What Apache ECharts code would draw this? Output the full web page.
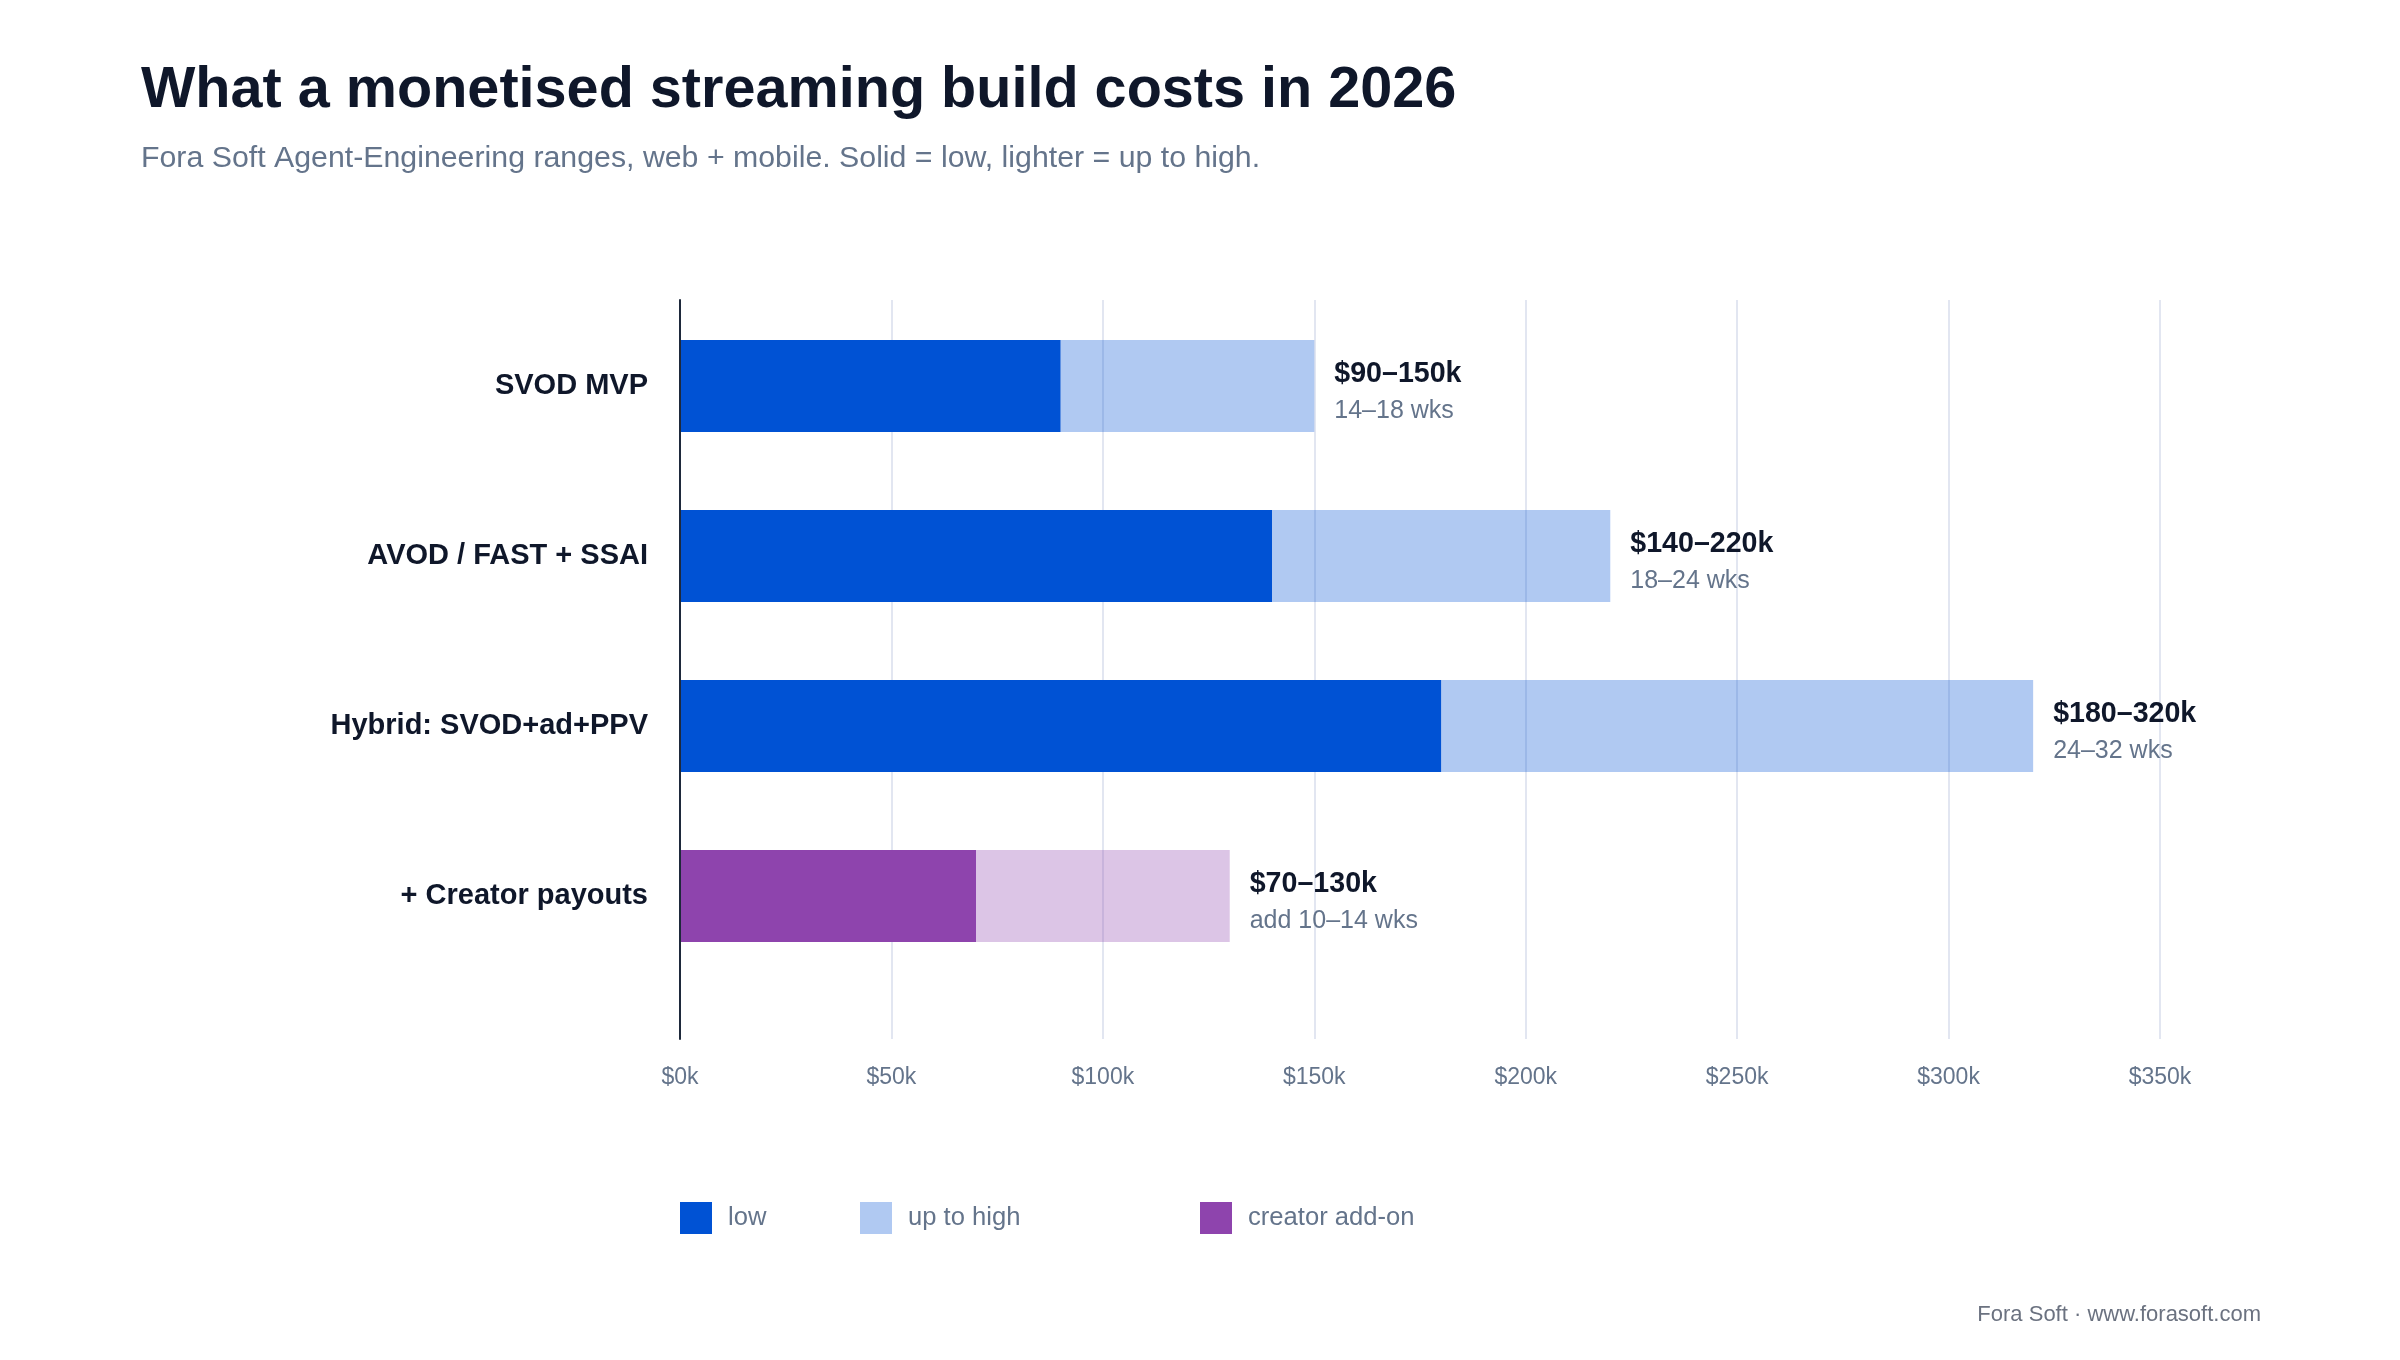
<!DOCTYPE html>
<html>
<head>
<meta charset="utf-8">
<title>Monetised streaming build costs 2026</title>
<script src="https://cdn.jsdelivr.net/npm/echarts@6/dist/echarts.min.js"></script>
<style>
    html, body { margin: 0; padding: 0; background: #ffffff; }
    #cost-chart { width: 2400px; height: 1360px; }
</style>
</head>
<body>
<div id="cost-chart"></div>
<script>
'use strict';

//分类
const categories = ['SVOD MVP', 'AVOD / FAST + SSAI', 'Hybrid: SVOD+ad+PPV', '+ Creator payouts']

//低价 / 高价（单位 $k）
const lowValues = [90, 140, 180, '-']
const highValues = [150, 220, 320, '-']
const creatorLowValues = ['-', '-', '-', 70]
const creatorHighValues = ['-', '-', '-', 130]

//柱子右侧标签
const rangeLabels = ['$90–150k', '$140–220k', '$180–320k', '$70–130k']
const weekLabels = ['14–18 wks', '18–24 wks', '24–32 wks', 'add 10–14 wks']

//x轴刻度
const axisMin = 0
const axisMax = 350
const axisStep = 50

const FONT = "'Liberation Sans', Arial, Helvetica, sans-serif"
const DARK = '#0f172a'
const GREY = '#64748b'

//高价部分 = 高 - 低
function diff(hi, lo) {
    return hi.map((h, i) => (h === '-' || lo[i] === '-') ? '-' : h - lo[i])
}

//柱子右侧两行标签
function rangeLabel(params) {
    return '{a|' + rangeLabels[params.dataIndex] + '}\n{b|' + weekLabels[params.dataIndex] + '}'
}

const labelRich = {
    a: { fontFamily: FONT, fontSize: 28.6, fontWeight: 'bold', color: DARK, lineHeight: 37 },
    b: { fontFamily: FONT, fontSize: 25, color: GREY, lineHeight: 37 }
}

const sideLabel = {
    show: true,
    position: 'right',
    distance: 20,
    padding: [14, 0, 0, 0],
    formatter: rangeLabel,
    rich: labelRich
}

function legendAt(name, left) {
    return {
        data: [name],
        left: left,
        top: 1202,
        padding: 0,
        icon: 'rect',
        itemWidth: 32,
        itemHeight: 32,
        selectedMode: false,
        textStyle: { fontFamily: FONT, fontSize: 25.6, color: GREY, padding: [0, 0, 0, 11] }
    }
}

const myChart = echarts.init(document.getElementById('cost-chart'), null, { renderer: 'canvas' })

const option = {
    backgroundColor: '#ffffff',
    animation: false,
    title: [{
        text: 'What a monetised streaming build costs in 2026',
        subtext: 'Fora Soft Agent-Engineering ranges, web + mobile. Solid = low, lighter = up to high.',
        left: 141,
        top: 62,
        padding: 0,
        itemGap: 24,
        textStyle: { fontFamily: FONT, fontSize: 57.6, fontWeight: 'bold', color: DARK },
        subtextStyle: { fontFamily: FONT, fontSize: 30.3, color: GREY }
    }, {
        text: 'Fora Soft · www.forasoft.com',
        right: 139,
        top: 1304,
        padding: 0,
        textStyle: { fontFamily: FONT, fontSize: 22, fontWeight: 'normal', color: '#6b7280' }
    }],
    legend: [
        legendAt('low', 680),
        legendAt('up to high', 860),
        legendAt('creator add-on', 1200)
    ],
    grid: [
        //柱子
        { left: 680, right: 240, top: 301, height: 680 },
        //坐标轴与网格线
        { left: 680, right: 240, top: 300, bottom: 321 }
    ],
    xAxis: [{
        gridIndex: 0,
        type: 'value',
        min: axisMin,
        max: axisMax,
        interval: axisStep,
        show: false
    }, {
        gridIndex: 1,
        type: 'value',
        min: axisMin,
        max: axisMax,
        interval: axisStep,
        axisLine: { show: false },
        axisTick: { show: false },
        axisLabel: {
            margin: 27,
            fontFamily: FONT,
            fontSize: 23,
            color: GREY,
            formatter: v => '$' + v + 'k'
        },
        splitLine: { show: true, lineStyle: { color: '#e2e6f1', width: 2 } }
    }],
    yAxis: [{
        gridIndex: 0,
        type: 'category',
        inverse: true,
        data: categories,
        axisLine: { show: false },
        axisTick: { show: false },
        splitLine: { show: false },
        axisLabel: {
            margin: 32,
            padding: [3, 0, 0, 0],
            fontFamily: FONT,
            fontSize: 29,
            fontWeight: 'bold',
            color: DARK
        }
    }, {
        gridIndex: 1,
        type: 'value',
        min: 0,
        max: 1,
        z: 5,
        axisLine: { show: true, onZero: false, lineStyle: { color: '#1e293b', width: 2 } },
        axisTick: { show: false },
        axisLabel: { show: false },
        splitLine: { show: false }
    }],
    series: [{
        name: 'low',
        type: 'bar',
        stack: 'range',
        barWidth: 92,
        itemStyle: { color: '#0052d4' },
        data: lowValues
    }, {
        name: 'up to high',
        type: 'bar',
        stack: 'range',
        barWidth: 92,
        itemStyle: { color: 'rgba(0, 82, 212, 0.31)' },
        label: sideLabel,
        data: diff(highValues, lowValues)
    }, {
        name: 'creator add-on',
        type: 'bar',
        stack: 'range',
        barWidth: 92,
        itemStyle: { color: '#8e44ad' },
        data: creatorLowValues
    }, {
        name: 'creator high',
        type: 'bar',
        stack: 'range',
        barWidth: 92,
        itemStyle: { color: 'rgba(142, 68, 173, 0.31)' },
        label: sideLabel,
        data: diff(creatorHighValues, creatorLowValues)
    }]
}

myChart.setOption(option)
</script>
</body>
</html>
